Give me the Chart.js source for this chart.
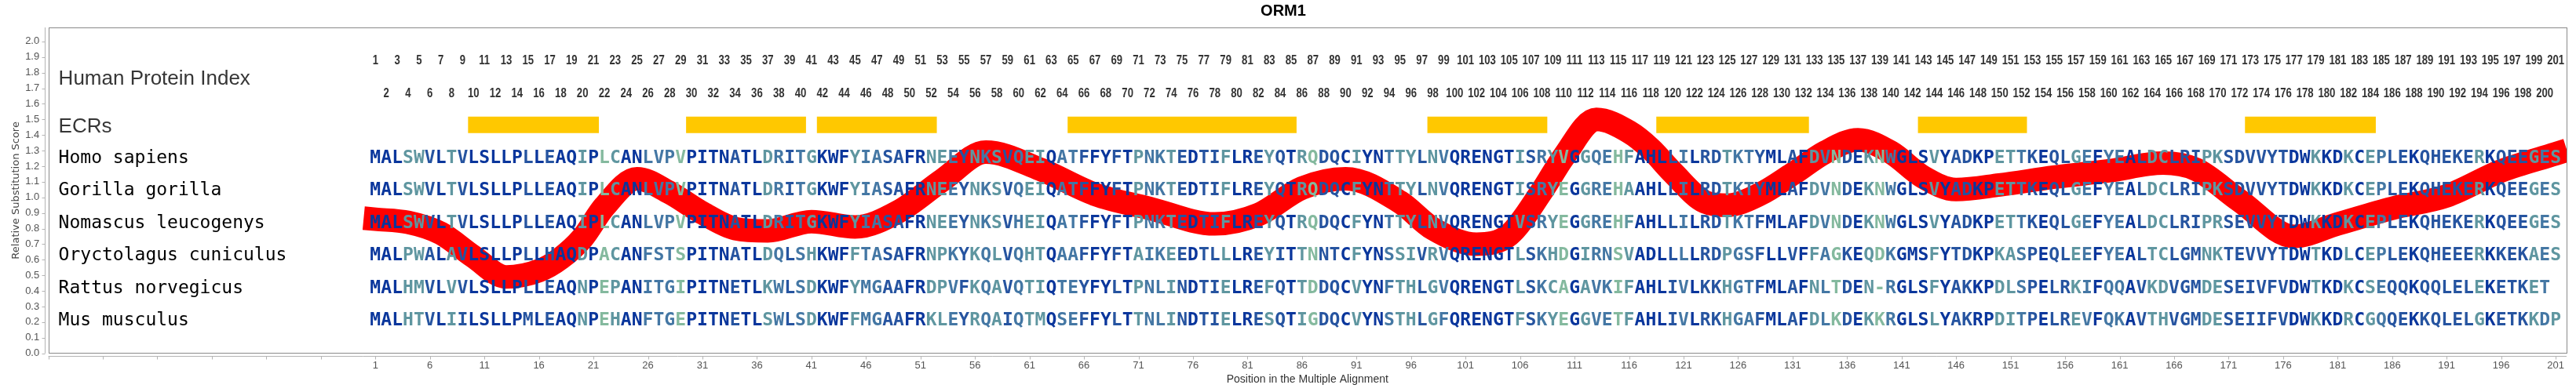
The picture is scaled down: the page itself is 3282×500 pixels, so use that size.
<!DOCTYPE html>
<html>
<head>
<meta charset="utf-8">
<script src="https://cdn.jsdelivr.net/npm/chart.js@4.4.1/dist/chart.umd.min.js"></script>
<style>
  html, body { margin: 0; padding: 0; background: #fff; }
</style>
</head>
<body>
<canvas id="chart" width="3282" height="500"></canvas>
<script>
  // species shown in the alignment, top to bottom
  var species = ['Homo sapiens', 'Gorilla gorilla', 'Nomascus leucogenys', 'Oryctolagus cuniculus', 'Rattus norvegicus', 'Mus musculus'];

  // aligned sequences, one residue per alignment position (1..201)
  var homo = 'MALSWVLTVLSLLPLLEAQIPLCANLVPVPITNATLDRITG' + 'KWFYIASAFRNEEYNKSVQEIQATFFYFTPNKTEDTIFLRE' +
    'YQTRQDQCIYNTTYLNVQRENGTISRYVGGQEHFAHLLILR' + 'DTKTYMLAFDVNDEKNWGLSVYADKPETTKEQLGEFYEALD' + 'CLRIPKSDVVYTDWKKDKCEPLEKQHEKERKQEEGES';
  var gorilla = 'MALSWVLTVLSLLPLLEAQIPLCANLVPVPITNATLDRITG' + 'KWFYIASAFRNEEYNKSVQEIQATFFYFTPNKTEDTIFLRE' +
    'YQTRQDQCFYNTTYLNVQRENGTISRYEGGREHAAHLLILR' + 'DTKTYMLAFDVNDEKNWGLSVYADKPETTKEQLGEFYEALD' + 'CLRIPKSDVVYTDWKKDKCEPLEKQHEKERKQEEGES';
  var nomascus = 'MALSWVLTVLSLLPLLEAQIPLCANLVPVPITNATLDRITG' + 'KWFYIASAFRNEEYNKSVHEIQATFFYFTPNKTEDTIFLRE' +
    'YQTRQDQCFYNTTYLNVQRENGTVSRYEGGREHFAHLLILR' + 'DTKTFMLAFDVNDEKNWGLSVYADKPETTKEQLGEFYEALD' + 'CLRIPRSEVVYTDWKKDKCEPLEKQHEKERKQEEGES';
  var oryctolagus = 'MALPWALAVLSLLPLLHAQDPACANFSTSPITNATLDQLSH' + 'KWFFTASAFRNPKYKQLVQHTQAAFFYFTAIKEEDTLLLRE' +
    'YITTNNTCFYNSSIVRVQRENGTLSKHDGIRNSVADLLLLR' + 'DPGSFLLVFFAGKEQDKGMSFYTDKPKASPEQLEEFYEALT' + 'CLGMNKTEVVYTDWTKDLCEPLEKQHEEERKKEKAES';
  var rattus = 'MALHMVLVVLSLLPLLEAQNPEPANITGIPITNETLKWLSD' + 'KWFYMGAAFRDPVFKQAVQTIQTEYFYLTPNLINDTIELRE' +
    'FQTTDDQCVYNFTHLGVQRENGTLSKCAGAVKIFAHLIVLK' + 'KHGTFMLAFNLTDEN-RGLSFYAKKPDLSPELRKIFQQAVK' + 'DVGMDESEIVFVDWTKDKCSEQQKQQLELEKETKET';
  var mus = 'MALHTVLIILSLLPMLEAQNPEHANFTGEPITNETLSWLSD' + 'KWFFMGAAFRKLEYRQAIQTMQSEFFYLTTNLINDTIELRE' +
    'SQTIGDQCVYNSTHLGFQRENGTFSKYEGGVETFAHLIVLR' + 'KHGAFMLAFDLKDEKKRGLSLYAKRPDITPELREVFQKAVT' + 'HVGMDESEIIFVDWKKDRCGQQEKKQLELGKETKKDP';
  var seqs = [homo, gorilla, nomascus, oryctolagus, rattus, mus];

  // conservation class of each alignment column (0 = most conserved)
  var colClass = '0003310310' + '0000101003' + '0430022240' + '0001003212' + '3000322110' +
    '0332132312' + '3302210010' + '3223101130' + '0131034110' + '3002331320' +
    '0000031234' + '0322430001' + '2011322100' + '1032410342' + '0003011003' +
    '3210113202' + '2013311133' + '1111110030' + '0303211011' + '11130111323';
  var classColors = ['#0a369c', '#2654a0', '#4477a4', '#5f96a0', '#84b99e'];

  // evolutionarily conserved regions (human protein index)
  var ecrStart = [10, 30, 42, 65, 98, 119, 143, 173];
  var ecrEnd = [21, 40, 52, 85, 108, 132, 152, 184];

  // smoothed relative substitution score
  var scorePos = [1, 4, 7, 10, 13, 16, 18, 20, 22, 25, 28, 31, 34, 37, 41, 45, 49, 53, 57, 62,
    67, 72, 78, 82, 86, 90, 95, 98, 102, 105, 108, 110, 113, 116, 118, 120, 123, 125, 128, 131,
    134, 137, 140, 143, 146, 150, 155, 160, 165, 168, 172, 177, 181, 186, 191, 196, 201];
  var scoreVal = [0.86, 0.84, 0.77, 0.62, 0.49, 0.53, 0.61, 0.74, 0.94, 1.12, 1.03, 0.90, 0.80, 0.785, 0.845, 0.81, 0.91, 1.11, 1.29, 1.18,
    1.02, 0.93, 0.83, 0.89, 1.06, 1.12, 0.97, 0.80, 0.70, 0.76, 1.04, 1.26, 1.50, 1.42, 1.31, 1.16, 0.97, 0.95, 1.02, 1.15,
    1.29, 1.37, 1.29, 1.13, 1.05, 1.08, 1.13, 1.17, 1.22, 1.18, 0.98, 0.75, 0.83, 0.93, 1.01, 1.17, 1.28];

  // axis ticks
  var yTicks = [0.0, 0.1, 0.2, 0.3, 0.4, 0.5, 0.6, 0.7, 0.8, 0.9, 1.0, 1.1, 1.2, 1.3, 1.4, 1.5, 1.6, 1.7, 1.8, 1.9, 2.0];
  var xTicks = [-29, -24, -19, -14, -9, -4, 1, 6, 11, 16, 21, 26, 31, 36, 41, 46, 51, 56, 61, 66, 71, 76, 81, 86, 91, 96,
    101, 106, 111, 116, 121, 126, 131, 136, 141, 146, 151, 156, 161, 166, 171, 176, 181, 186, 191, 196, 201];

  // vertical placement of the text rows, in score units
  var rowTop = 1.25;
  var oddRow = 1.875, evenRow = 1.667, ecrRow = 1.465;

  var ecrSets = ecrStart.map(function (s, i) {
    return {
      data: [{ x: s - 0.5, y: ecrRow }, { x: ecrEnd[i] + 0.5, y: ecrRow }],
      borderColor: '#ffc800',
      borderWidth: 21,
      borderCapStyle: 'butt',
      pointRadius: 0,
      clip: 0
    };
  });

  var scoreSet = {
    data: scorePos.map(function (p, i) { return { x: p, y: scoreVal[i] }; }),
    borderColor: '#ff0000',
    borderWidth: 30,
    borderCapStyle: 'square',
    borderJoinStyle: 'round',
    cubicInterpolationMode: 'monotone',
    pointRadius: 0,
    clip: 0
  };

  var overlay = {
    id: 'overlay',
    afterDatasetsDraw: function (chart) {
      var ctx = chart.ctx, xs = chart.scales.x, ys = chart.scales.y;
      var left = chart.chartArea.left + 13;
      ctx.save();
      ctx.textBaseline = 'middle';
      ctx.textAlign = 'left';
      ctx.fillStyle = '#363636';
      ctx.font = '26px "Liberation Sans", Arial, sans-serif';
      ctx.fillText('Human Protein Index', left, ys.getPixelForValue(1.76));
      ctx.fillText('ECRs', left, ys.getPixelForValue(1.45));

      ctx.fillStyle = '#000';
      ctx.font = '23px "DejaVu Sans Mono", monospace';
      species.forEach(function (name, i) {
        ctx.fillText(name, left, ys.getPixelForValue(rowTop * (6 - i) / 6));
      });

      // residues
      ctx.textAlign = 'center';
      ctx.font = 'bold 23px "DejaVu Sans Mono", monospace';
      seqs.forEach(function (s, i) {
        var py = ys.getPixelForValue(rowTop * (6 - i) / 6);
        for (var k = 0; k < s.length; k++) {
          ctx.fillStyle = classColors[+colClass[k]];
          ctx.fillText(s[k], xs.getPixelForValue(k + 1), py);
        }
      });

      // human protein index numbers (narrow bold face, squeezed Liberation Sans if the narrow one is missing)
      var narrow = 'bold 16px "Liberation Sans Narrow", "Liberation Sans", sans-serif';
      var plain = 'bold 16px "Liberation Sans", sans-serif';
      ctx.font = narrow;
      var wn = ctx.measureText('1234567890').width;
      ctx.font = plain;
      var wr = ctx.measureText('1234567890').width;
      var squeeze = 1;
      if (wn < wr * 0.95) {
        ctx.font = narrow;
      } else {
        squeeze = 0.82;
      }
      ctx.fillStyle = '#333';
      for (var n = 1; n <= homo.length; n++) {
        var px = xs.getPixelForValue(n);
        var py = ys.getPixelForValue(n % 2 ? oddRow : evenRow);
        ctx.save();
        ctx.translate(px, py);
        ctx.scale(squeeze, 1);
        ctx.fillText(String(n), 0, 0);
        ctx.restore();
      }
      ctx.restore();
    },
    afterDraw: function (chart) {
      var ctx = chart.ctx, a = chart.chartArea, xs = chart.scales.x, ys = chart.scales.y;
      ctx.save();
      // plot frame
      ctx.strokeStyle = '#8a8a8a';
      ctx.lineWidth = 1;
      ctx.strokeRect(Math.round(a.left) + 0.5, Math.round(a.top) + 0.5, Math.round(a.right - a.left), Math.round(a.bottom - a.top) - 1);
      // offset axes
      ctx.strokeStyle = '#b4b4b4';
      var ax = Math.round(a.left) - 4.5;
      var ay = Math.round(a.bottom) + 3.5;
      ctx.beginPath();
      ctx.moveTo(ax, a.top);
      ctx.lineTo(ax, ys.getPixelForValue(0));
      yTicks.forEach(function (v) {
        var p = Math.round(ys.getPixelForValue(v)) + 0.5;
        ctx.moveTo(ax - 4, p);
        ctx.lineTo(ax, p);
      });
      ctx.moveTo(a.left, ay);
      ctx.lineTo(a.right, ay);
      xTicks.forEach(function (v) {
        var p = Math.round(xs.getPixelForValue(v)) + 0.5;
        ctx.moveTo(p, ay);
        ctx.lineTo(p, ay + 4);
      });
      ctx.stroke();
      ctx.restore();
    }
  };

  var chart = new Chart(document.getElementById('chart'), {
    type: 'line',
    data: { datasets: [scoreSet].concat(ecrSets) },
    options: {
      responsive: false,
      devicePixelRatio: 1,
      animation: false,
      events: [],
      layout: { padding: { left: 0, right: 12, top: 0, bottom: 0 } },
      plugins: {
        legend: { display: false },
        tooltip: { enabled: false },
        title: {
          display: true,
          text: 'ORM1',
          color: '#000',
          font: { family: '"Liberation Sans", Arial, sans-serif', size: 20, weight: 'bold', lineHeight: 1.2 },
          padding: { top: 2, bottom: 9 }
        }
      },
      scales: {
        x: {
          type: 'linear',
          min: -29,
          max: 202,
          grid: { display: false, drawTicks: false },
          border: { display: false },
          afterBuildTicks: function (scale) {
            scale.ticks = xTicks.map(function (v) { return { value: v }; });
          },
          afterFit: function (scale) { scale.height = 49.3; },
          ticks: {
            autoSkip: false,
            maxRotation: 0,
            padding: 7.5,
            color: '#555',
            font: { family: '"Liberation Sans", Arial, sans-serif', size: 13 },
            callback: function (v) { return v >= 1 ? String(v) : ''; }
          },
          title: {
            display: true,
            text: 'Position in the Multiple Alignment',
            color: '#333',
            font: { family: '"Liberation Sans", Arial, sans-serif', size: 14, lineHeight: 1.2 },
            padding: { top: 0, bottom: 7.6 }
          }
        },
        y: {
          type: 'linear',
          min: 0,
          max: 2.09,
          grid: { display: false, drawTicks: false },
          border: { display: false },
          afterBuildTicks: function (scale) {
            scale.ticks = yTicks.map(function (v) { return { value: v }; });
          },
          afterFit: function (scale) { scale.width = 61.6; },
          ticks: {
            autoSkip: false,
            padding: 11.4,
            color: '#555',
            font: { family: '"Liberation Sans", Arial, sans-serif', size: 13 },
            callback: function (v) { return v.toFixed(1); }
          },
          title: {
            display: true,
            text: 'Relative Substitution Score',
            color: '#444',
            font: { family: '"DejaVu Sans", sans-serif', size: 13, lineHeight: 1.2 },
            padding: { top: 12.6, bottom: 0 }
          }
        }
      }
    },
    plugins: [overlay]
  });
</script>
</body>
</html>
